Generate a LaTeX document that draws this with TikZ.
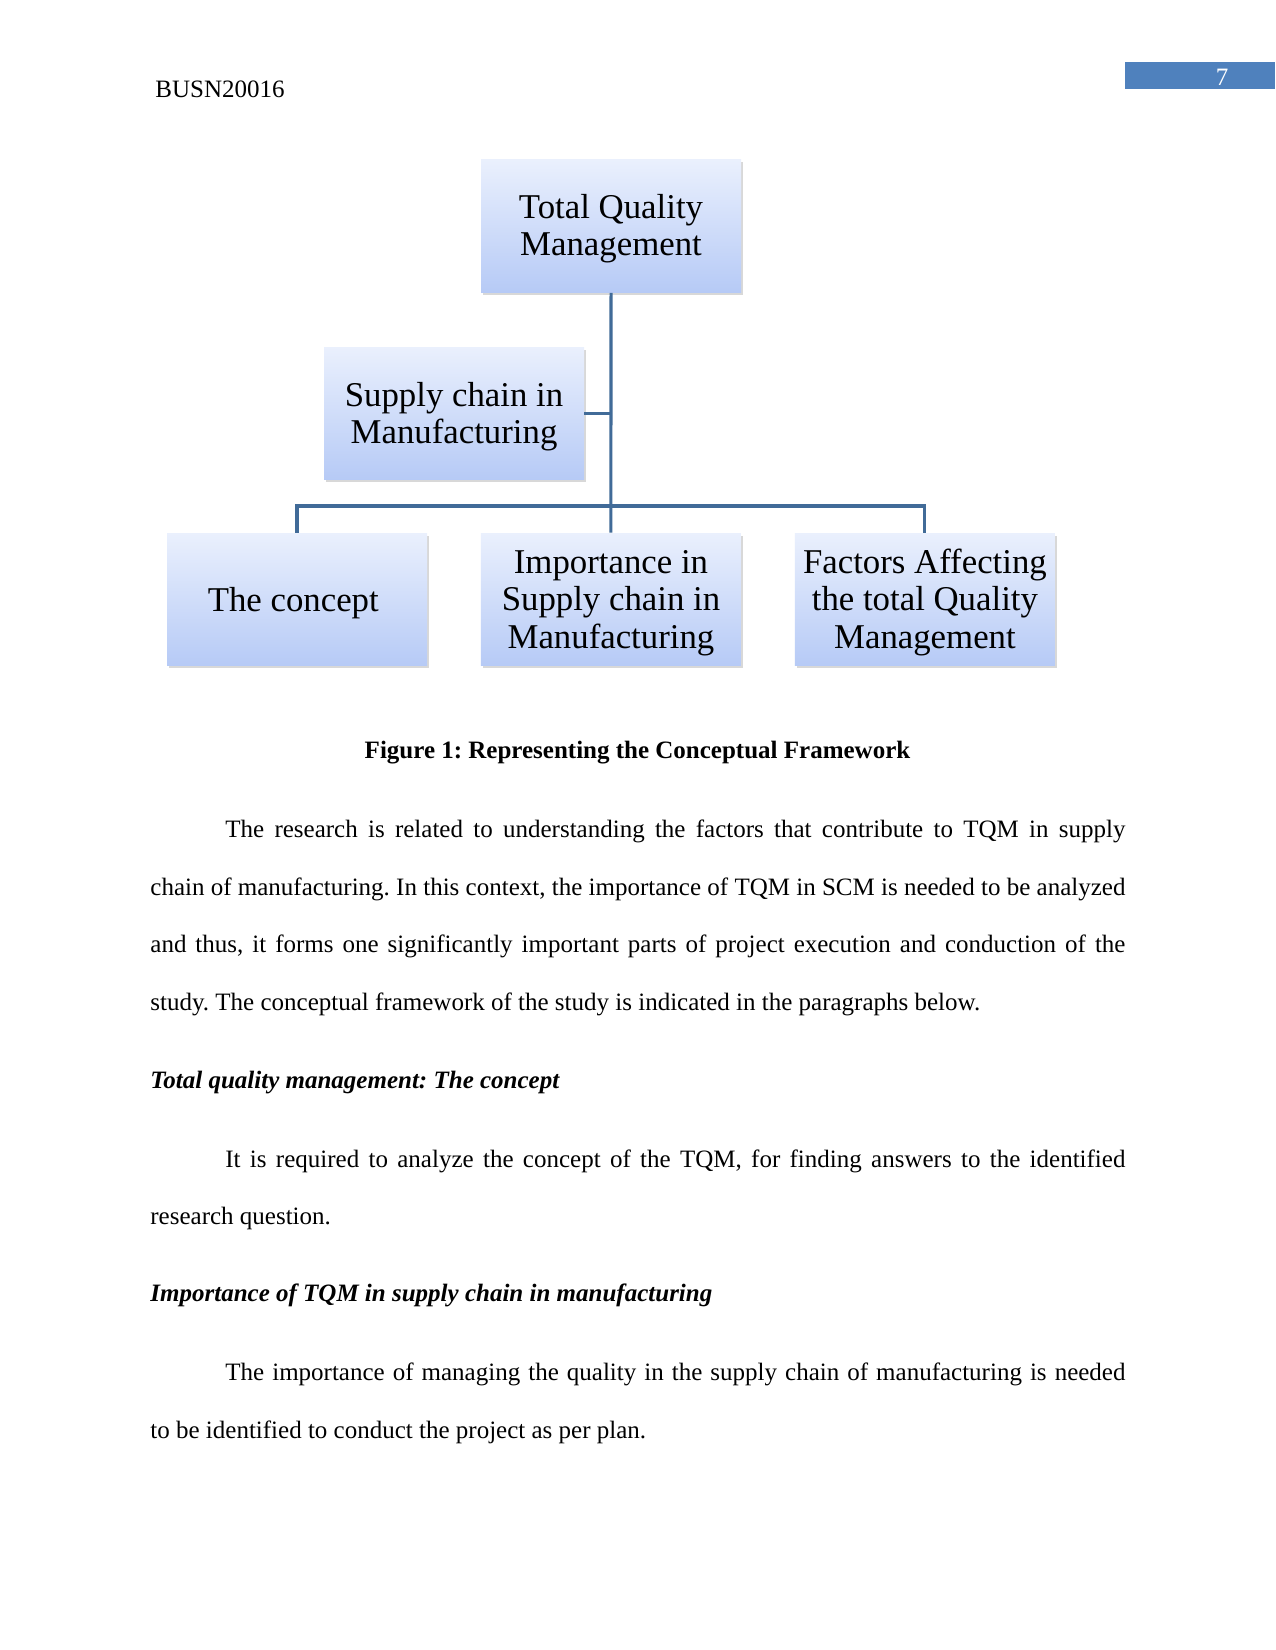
\documentclass[tikz,border=0pt]{standalone}
\usepackage{fontspec}
\setmainfont{Liberation Serif}
\usetikzlibrary{positioning,shadows}

\definecolor{boxtop}{RGB}{234,240,253}
\definecolor{boxbot}{RGB}{182,202,246}
\definecolor{linkblue}{RGB}{65,107,152}
\definecolor{tabblue}{RGB}{79,129,189}

\newcommand{\boxstrut}{\rule{0pt}{14.6pt}}
\newcommand{\lastpad}{\hspace{3.6pt}}

\begin{document}
\frenchspacing
\begin{tikzpicture}[x=0.48pt, y=-0.48pt, node distance=25.5pt,
  box/.style={rectangle, top color=boxtop, bottom color=boxbot, minimum width=124.8pt, minimum height=63.8pt, inner sep=0pt, align=center, font=\fontsize{16.7}{17.8}\selectfont, drop shadow={shadow xshift=1pt, shadow yshift=-1.2pt, opacity=0.3}},
  link/.style={draw=linkblue, line width=1.45pt},
  txt/.style={anchor=base west, inner sep=0pt, font=\fontsize{12}{14}\selectfont}]
\fill[white] (0,0) rectangle (1275,1650);
\useasboundingbox (0,0) rectangle (1275,1650);

% page head
\node[txt] (hdr) at (155,97.6) {BUSN20016};
\node[fill=tabblue, minimum width=72pt, minimum height=13pt, inner sep=0pt, anchor=north west] (tab) at (1125,62) {};
\node[txt, anchor=base, text=white] (pgno) at (1222,86) {7};

% framework
\node[box] (tqm) at (611,226) {\boxstrut Total Quality\\Management\lastpad};
\node[box] (sup) at (454,413.5) {\boxstrut Supply chain in\\Manufacturing\lastpad};
\node[box] (con) at (297,599.5) {\boxstrut The concept\lastpad};
\node[box, right=of con] (imp) {\boxstrut Importance in\\Supply chain in\\Manufacturing\lastpad};
\node[box, right=of imp] (fac) {\boxstrut Factors Affecting\\the total Quality\\Management\lastpad};
\coordinate (bar) at (611,506);
\draw[link] (tqm.south) -- (imp.north);
\draw[link] (sup.east) -- (sup.east -| tqm.south);
\draw[link] (con.north) |- (bar) -| (fac.north);

\node[txt, anchor=base] (cap) at (637.5,758.6) {\bfseries Figure 1: Representing the Conceptual Framework};

% body text
\node[txt] (p1a) at (225,837.6) {\makebox[432pt][s]{The research is related to understanding the factors that contribute to TQM in supply}};
\node[txt] (p1b) at (150,895.1) {\makebox[468pt][s]{chain of manufacturing. In this context, the importance of TQM in SCM is needed to be analyzed}};
\node[txt] (p1c) at (150,952.6) {\makebox[468pt][s]{and thus, it forms one significantly important parts of project execution and conduction of the}};
\node[txt] (p1d) at (150,1010.1) {study. The conceptual framework of the study is indicated in the paragraphs below.};

\node[txt] (hd1) at (150,1088.6) {\bfseries\itshape Total quality management: The concept};
\node[txt] (p2a) at (225,1167.1) {\makebox[432pt][s]{It is required to analyze the concept of the TQM, for finding answers to the identified}};
\node[txt] (p2b) at (150,1224.6) {research question.};

\node[txt] (hd2) at (150,1301.6) {\bfseries\itshape Importance of TQM in supply chain in manufacturing};
\node[txt] (p3a) at (225,1380.6) {\makebox[432pt][s]{The importance of managing the quality in the supply chain of manufacturing is needed}};
\node[txt] (p3b) at (150,1438.1) {to be identified to conduct the project as per plan.};
\end{tikzpicture}
\end{document}
